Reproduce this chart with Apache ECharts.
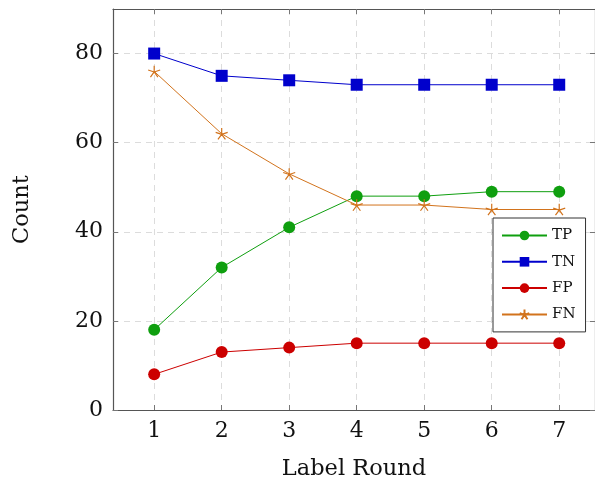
<!DOCTYPE html>
<html>
<head>
<meta charset="utf-8">
<script src="https://cdn.jsdelivr.net/npm/echarts@6/dist/echarts.min.js"></script>
<style>
  html, body { margin: 0; padding: 0; background: #fff; }
  #chart { width: 595px; height: 486px; }
</style>
</head>
<body>
<div id="chart"></div>
<script>
// label rounds and counts per round
const rounds = [1, 2, 3, 4, 5, 6, 7]
const yTicks = [0, 20, 40, 60, 80]
const tp = [18, 32, 41, 48, 48, 49, 49]
const tn = [80, 75, 74, 73, 73, 73, 73]
const fp = [8, 13, 14, 15, 15, 15, 15]
const fn = [76, 62, 53, 46, 46, 45, 45]

const font = 'DejaVu Serif'
const starPath = 'path://M0,-10L0,0M9.5,-3.1L0,0M5.9,8.1L0,0M-5.9,8.1L0,0M-9.5,-3.1L0,0'

const pairs = vals => rounds.map((r, i) => [r, vals[i]])

const chart = echarts.init(document.getElementById('chart'))

const gridLine = { show: true, lineStyle: { color: '#dcdcdc', type: [6, 5], width: 1 } }
const frameLine = { show: true, onZero: false, lineStyle: { color: '#555', width: 1.2 } }
const tick = { show: true, inside: true, length: 5, lineStyle: { color: '#777', width: 1 } }

const makeLine = (name, vals, color, symbol, size, extra) => Object.assign({
  name: name,
  type: 'line',
  data: pairs(vals),
  symbol: symbol,
  symbolSize: size,
  showSymbol: true,
  lineStyle: { color: color, width: 1 },
  itemStyle: { color: color },
  emphasis: { disabled: true },
  animation: false,
  z: 3
}, extra || {})

const option = {
  backgroundColor: '#fff',
  animation: false,
  grid: { left: 113, right: 0, top: 9, bottom: 75, containLabel: false },
  legend: {
    orient: 'vertical',
    left: 493,
    top: 218,
    padding: [10, 10, 10, 8],
    itemWidth: 45,
    itemHeight: 12,
    itemGap: 11.3,
    backgroundColor: '#fff',
    borderColor: '#333',
    borderWidth: 1,
    borderRadius: 0,
    textStyle: { fontFamily: font, fontSize: 15, color: '#111' },
    data: ['TP', 'TN', 'FP', 'FN']
  },
  xAxis: [{
    type: 'value',
    min: 0.39,
    max: 7.53,
    position: 'bottom',
    axisLine: frameLine,
    axisTick: Object.assign({ customValues: rounds }, tick),
    axisLabel: { customValues: rounds, fontFamily: font, fontSize: 22, color: '#111', margin: 10 },
    splitLine: gridLine,
    name: 'Label Round',
    nameLocation: 'middle',
    nameGap: 48,
    nameTextStyle: { fontFamily: font, fontSize: 22.5, color: '#111' }
  }, {
    type: 'value',
    min: 0.39,
    max: 7.53,
    position: 'top',
    axisLine: frameLine,
    axisTick: Object.assign({ customValues: rounds }, tick),
    axisLabel: { show: false },
    splitLine: { show: false }
  }],
  yAxis: [{
    type: 'value',
    min: 0,
    max: 90,
    position: 'left',
    axisLine: frameLine,
    axisTick: Object.assign({ customValues: yTicks }, tick),
    axisLabel: { customValues: yTicks, fontFamily: font, fontSize: 22, color: '#111', margin: 10 },
    splitLine: gridLine,
    name: 'Count',
    nameLocation: 'middle',
    nameGap: 79,
    nameTextStyle: { fontFamily: font, fontSize: 22.5, color: '#111' }
  }, {
    type: 'value',
    min: 0,
    max: 90,
    position: 'right',
    axisLine: frameLine,
    axisTick: Object.assign({ customValues: yTicks }, tick),
    axisLabel: { show: false },
    splitLine: { show: false }
  }],
  series: [
    makeLine('TP', tp, '#0f9f0f', 'circle', 12),
    makeLine('TN', tn, '#0000cc', 'rect', 12),
    makeLine('FP', fp, '#cc0000', 'circle', 12),
    makeLine('FN', fn, '#d2731c', starPath, 12, {
      symbolKeepAspect: true,
      itemStyle: { color: 'none', borderColor: '#d2731c', borderWidth: 1.2 }
    })
  ]
}

chart.setOption(option)
</script>
</body>
</html>
